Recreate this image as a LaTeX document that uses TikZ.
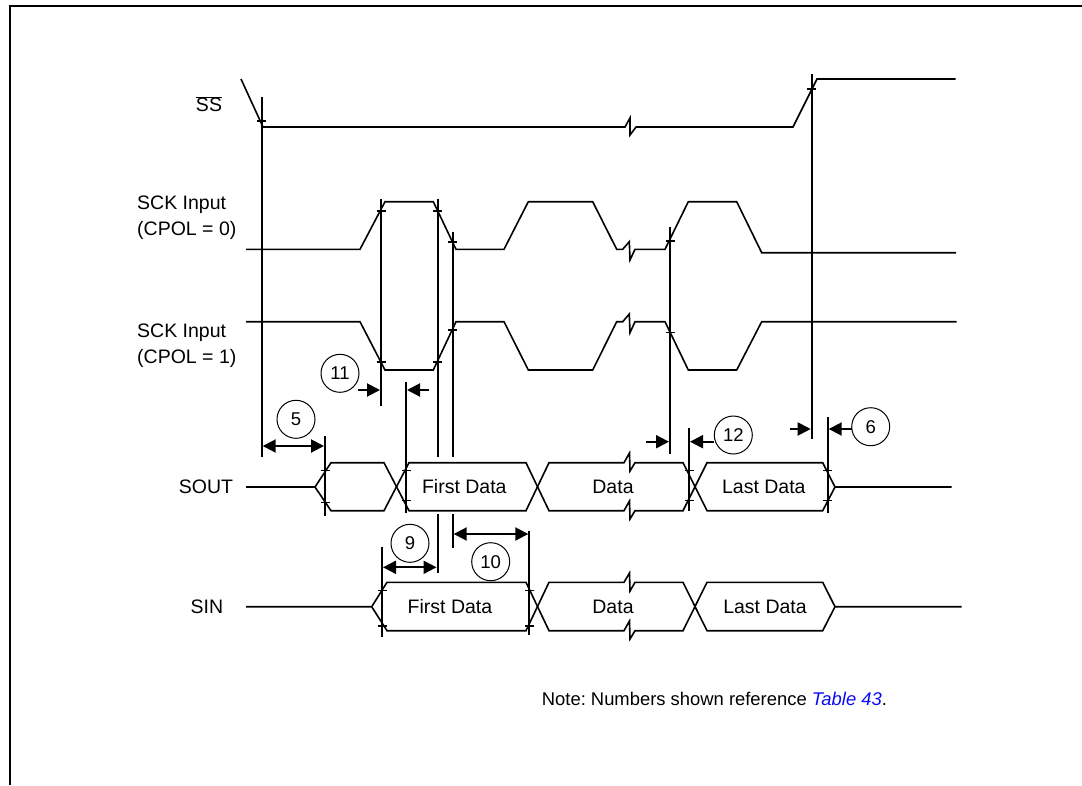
\documentclass[tikz,border=0pt]{standalone}
\usepackage{fontspec}
\setmainfont{Liberation Sans}
\usepackage{xcolor}
\usetikzlibrary{arrows.meta}
\definecolor{linkblue}{RGB}{10,10,245}
\frenchspacing

\begin{document}
\begin{tikzpicture}[x=1pt, y=-1pt,
		>={Triangle[length=13pt, width=13pt]},
		sig/.style={line width=1.6pt, line join=miter},
		guide/.style={line width=2pt},
		tick/.style={line width=1.5pt},
		dim/.style={line width=2pt},
		num/.style={circle, draw, line width=1pt, minimum size=38pt, inner sep=0pt, font=\fontsize{18.5}{20}\selectfont},
		lbl/.style={font=\fontsize{19.5}{25.7}\selectfont, inner sep=0pt}]
	\useasboundingbox (0,0) rectangle (1082,785);
	% frame
	\draw[line width=2.5pt] (10,785) -- (10,6) -- (1082,6);

	% signal names
	\node[lbl] (ss) at (209,104) {$\overline{\mbox{SS}}$};
	\node[lbl, anchor=west, align=left] (sck0) at (137,218) {SCK Input\\(CPOL = 0)};
	\node[lbl, anchor=west, align=left] (sck1) at (137,346) {SCK Input\\(CPOL = 1)};
	\node[lbl, anchor=east] (sout) at (233.3,487) {SOUT};
	\node[lbl, anchor=east] (sin) at (223.3,606.7) {SIN};

	% SS
	\draw[sig] (241,79) -- (263,127) -- (625,127) -- (630,118) -- (630,135) -- (636,127)
		-- (793,127) -- (817,79) -- (955.7,79);
	% SCK, CPOL = 0
	\draw[sig] (246,249.3) -- (360,249.3) -- (385,201.7) -- (433.3,201.7) -- (456,249.3)
		-- (504,249.3) -- (528.3,201.7) -- (592.7,201.7) -- (616.7,249.3) -- (622.7,249.3)
		-- (629.3,241.7) -- (630,260) -- (635,249.3) -- (665,249.3) -- (688.3,201.7)
		-- (736.7,201.7) -- (761.7,252.7) -- (956,252.7);
	% SCK, CPOL = 1
	\draw[sig] (246,321.7) -- (360,321.7) -- (385,370) -- (433.3,370) -- (456,321.7)
		-- (504,321.7) -- (528.3,370) -- (592.7,370) -- (616.7,321.7) -- (622.7,321.7)
		-- (629.3,314) -- (630,332.7) -- (635,321.7) -- (665,321.7) -- (688.3,370)
		-- (736.7,370) -- (761.7,321.7) -- (956.7,321.7);

	% SOUT bus
	\draw[sig] (246,487) -- (315,487) -- (331,462.7) -- (384,462.7) -- (409,510.7) -- (526,510.7)
		-- (549,462.7) -- (624,462.7) -- (629.5,453) -- (630,471) -- (635,462.7) -- (683,462.7)
		-- (707,510.7) -- (822.7,510.7) -- (835,487) -- (951.7,487);
	\draw[sig] (315,487) -- (331,510.7) -- (384,510.7) -- (409,462.7) -- (526,462.7)
		-- (549,510.7) -- (624,510.7) -- (629.5,501) -- (630,519) -- (635,510.7) -- (683,510.7)
		-- (707,462.7) -- (822.7,462.7) -- (835,487);
	\node[lbl] (sfirst) at (464.3,487) {First Data};
	\node[lbl] (sdata) at (613,487) {Data};
	\node[lbl] (slast) at (763.8,487) {Last Data};

	% SIN bus
	\draw[sig] (246,606.7) -- (371.7,606.7) -- (387,582.3) -- (526,582.3) -- (549,630.7)
		-- (624,630.7) -- (629.5,621) -- (630,639) -- (635,630.7) -- (683,630.7)
		-- (707,582.3) -- (822.7,582.3) -- (835,606.7) -- (961.7,606.7);
	\draw[sig] (371.7,606.7) -- (387,630.7) -- (526,630.7) -- (549,582.3)
		-- (624,582.3) -- (629.5,573) -- (630,591) -- (635,582.3) -- (683,582.3)
		-- (707,630.7) -- (822.7,630.7) -- (835,606.7);
	\node[lbl] (ifirst) at (450,606.7) {First Data};
	\node[lbl] (idata) at (613,606.7) {Data};
	\node[lbl] (ilast) at (765,606.7) {Last Data};

	% reference lines
	\draw[guide] (261.7,97) -- (261.7,457);
	\draw[guide] (381,199) -- (381,406);
	\draw[guide] (406,381.7) -- (406,512.7);
	\draw[guide] (437.5,199) -- (437.5,457);
	\draw[guide] (437.5,514) -- (437.5,572.7);
	\draw[guide] (452.7,231.7) -- (452.7,457);
	\draw[guide] (452.7,514) -- (452.7,548.3);
	\draw[guide] (325,436) -- (325,516);
	\draw[guide] (670,226.7) -- (670,454);
	\draw[guide] (689,428.3) -- (689,510.7);
	\draw[guide] (811.7,74) -- (811.7,439.3);
	\draw[guide] (827.7,417.3) -- (827.7,512.7);
	\draw[guide] (382,546.7) -- (382,636.7);
	\draw[guide] (529.3,530.7) -- (529.3,635);
	% crossing marks
	\foreach \x/\y in {261.7/121, 811.7/89, 381/211, 381/362, 437.5/211, 437.5/362,
			452.7/242, 452.7/330, 670/241, 670/332.5, 325/470.7, 325/502.7, 406/470.7,
			406/500.7, 689/470.7, 689/500.7, 827.7/470.7, 827.7/500.7, 382/590.7, 382/626,
			529.3/590.7, 529.3/626}
		\draw[tick] (\x-4.5,\y) -- (\x+4.5,\y);

	% timing numbers
	\node[num] (n5) at (296,419.3) {5};
	\node[num] (n11) at (340,373.3) {11};
	\node[num] (n9) at (410,543.3) {9};
	\node[num] (n10) at (490.7,561.7) {10};
	\node[num] (n12) at (733.3,435) {12};
	\node[num] (n6) at (870.7,426.7) {6};
	\draw[dim, <->] (262.7,446) -- (324,446);
	\draw[dim, ->] (358.3,390) -- (380,390);
	\draw[dim, ->] (429.3,390) -- (407,390);
	\draw[dim, <->] (383,567.3) -- (436.5,567.3);
	\draw[dim, <->] (453.7,534) -- (528.3,534);
	\draw[dim, ->] (646,441.7) -- (669,441.7);
	\draw[dim, ->] (713.6,441.7) -- (690,441.7);
	\draw[dim, ->] (790,429) -- (810.7,429);
	\draw[dim, ->] (851.8,429) -- (828.7,429);

	% note
	\node[anchor=west, inner sep=0pt, font=\fontsize{18.4}{22}\selectfont] (note) at (541.7,699)
		{Note: Numbers shown reference \textcolor{linkblue}{\itshape Table 43}.};
\end{tikzpicture}
\end{document}
